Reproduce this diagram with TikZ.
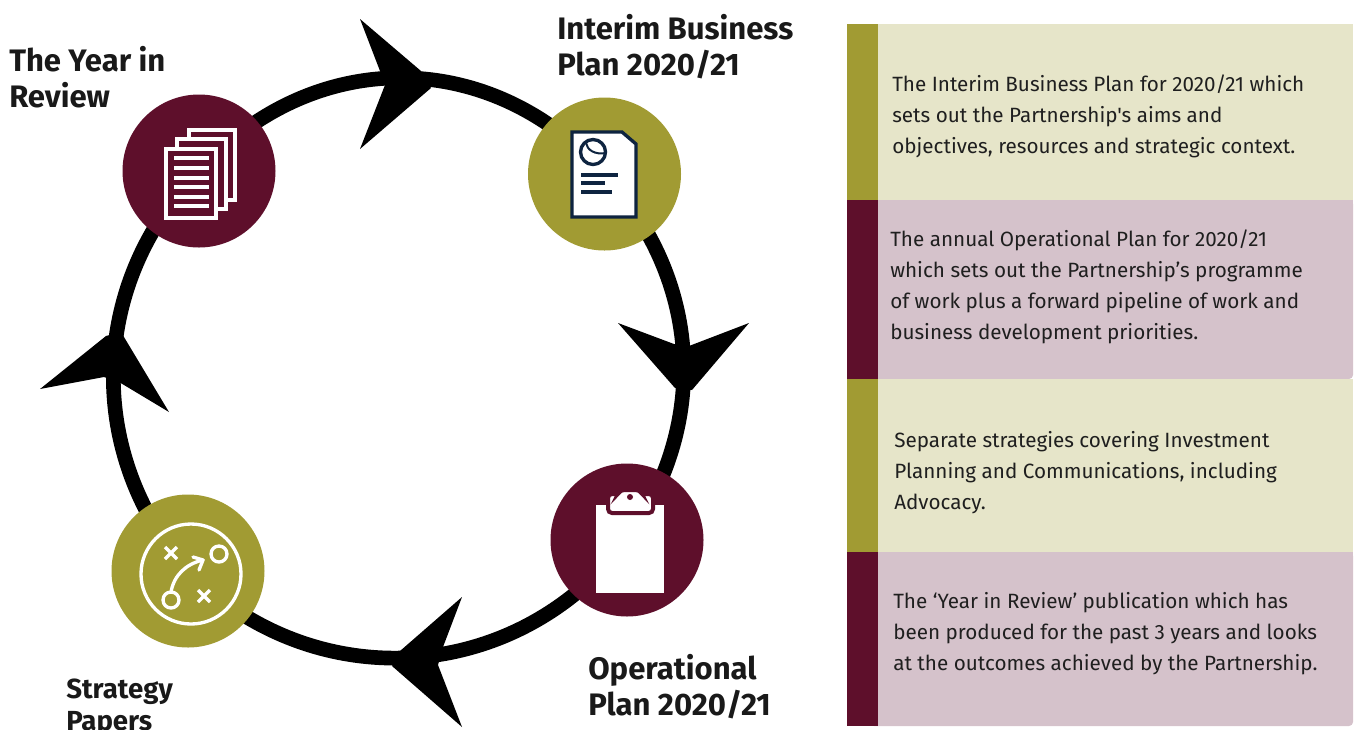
\documentclass[tikz,border=0pt]{standalone}
\usepackage{fontspec}
\setmainfont{Fira Sans}
\newfontfamily\plainbody{Fira Sans}
\usetikzlibrary{backgrounds}
\definecolor{maroon}{HTML}{5E0F2B}
\definecolor{olive}{HTML}{A19B33}
\definecolor{palegreen}{HTML}{E6E5C9}
\definecolor{palepink}{HTML}{D5C2CB}
\definecolor{navy}{HTML}{0E2440}
\tikzset{
  hub/.style={circle,minimum size=114.75pt,inner sep=0pt},
  ring/.style={line width=11pt,black},
  head/.style={fill=black,draw=none},
  title/.style={font=\fontsize{23.3}{27}\selectfont\bfseries,align=left,anchor=north west,inner sep=0pt,text=black!90},
  body/.style={font=\plainbody\fontsize{15.5}{23.2}\selectfont,align=left,anchor=west,inner sep=0pt,text=black!88},
  lite/.style={draw=white,line width=2.5pt},
  sheet/.style={draw=white,line width=2.7pt,fill=maroon},
  reportline/.style={navy,line width=2.5pt},
}
\begin{document}
\begin{tikzpicture}[x=0.75pt,y=-0.75pt]
\useasboundingbox (0,0) rectangle (1356,729);
\clip (0,0) rectangle (1356,729);
% panels
\fill[palegreen] (878,24) rectangle (1353,200);
\fill[palepink,rounded corners=3pt] (870,200) rectangle (1353,379);
\fill[palepink] (870,200) rectangle (1353,300);
\fill[palegreen] (878,379) rectangle (1353,552);
\fill[palepink,rounded corners=3pt] (870,552) rectangle (1353,726);
\fill[palepink] (870,552) rectangle (1353,650);
\fill[olive] (847,24) rectangle (878,200);
\fill[maroon] (847,200) rectangle (878,379);
\fill[olive] (847,379) rectangle (878,552);
\fill[maroon] (847,552) rectangle (878,726);
\node[body] (t1) at (892,116) {The Interim Business Plan for 2020/21 which\\sets out the Partnership's aims and\\objectives, resources and strategic context.};
\node[body] (t2) at (890,287) {The annual Operational Plan for 2020/21\\which sets out the Partnership’s programme\\of work plus a forward pipeline of work and\\business development priorities.};
\node[body] (t3) at (894,473) {Separate strategies covering Investment\\Planning and Communications, including\\Advocacy.};
\node[body] (t4) at (893,634) {The ‘Year in Review’ publication which has\\been produced for the past 3 years and looks\\at the outcomes achieved by the Partnership.};
% hubs
\node[hub,fill=maroon] (yr) at (199,171) {};
\node[hub,fill=olive] (ib) at (604.5,174) {};
\node[hub,fill=maroon] (op) at (627,540) {};
\node[hub,fill=olive] (sp) at (188,571) {};
\begin{scope}[on background layer]
\draw[ring] (yr.center) to[bend left=48,looseness=1.07] (ib.center);
\draw[ring] (ib.center) to[bend left=39] (op.center);
\draw[ring] (op.center) to[bend left=49,looseness=1.05] (sp.center);
\draw[ring] (sp.center) to[bend left=43] (yr.center);
\end{scope}
% arrowheads
\fill[head] (360,19) -- (421,71) -- (431,88) -- (360,149) -- (385,85) -- (380,71) -- cycle;
\fill[head] (618,323) -- (674,344) -- (689,346) -- (749,323) -- (692,390) -- (675,388) -- cycle;
\fill[head] (462,597) -- (443,647) -- (438,665) -- (462,727) -- (392,666) -- (400,651) -- cycle;
\fill[head] (40,389) -- (106,336) -- (121,332) -- (169,412) -- (119,382) -- (104,377) -- cycle;
% titles
\node[title] (lyr) at (9,46) {The Year in\\Review};
\node[title] (lib) at (557,14) {Interim Business\\Plan 2020/21};
\node[title] (lop) at (588,654) {Operational\\Plan 2020/21};
\node[title,font=\fontsize{20.7}{24}\selectfont\bfseries] (lsp) at (66,679) {Strategy\\Papers};
% icon: pages
\draw[sheet] (189,130) rectangle (235,200);
\draw[sheet] (177,139) rectangle (226,209);
\draw[sheet] (166,149) rectangle (216,218);
\foreach \y in {158,168,177.5,187,197,206}{\fill[white] (174,\y-2) rectangle (209,\y+2);}
% icon: report
\draw[reportline,fill=white] (572,132) -- (622,132) -- (636,144) -- (636,217) -- (572,217) -- cycle;
\draw[reportline] (593,152) circle (12.5);
\draw[navy,line width=1.5pt] (586,143) .. controls (587,150) and (595,155) .. (606,153);
\draw[reportline] (581,175) -- (618,175) (581,183) -- (605,183) (581,192) -- (612,192);
% icon: clipboard
\fill[white] (596,505) rectangle (664,593);
\draw[maroon,line width=3pt,fill=white,rounded corners=3pt] (608,494) -- (618,494) -- (620,490) -- (640,490) -- (642,494) -- (653,494) -- (653,513) -- (608,513) -- cycle;
\fill[maroon] (630,497) circle (3);
% icon: tactics
\draw[lite] (191,574) circle (50);
\draw[lite] (219,554) circle (8);
\draw[lite] (171,600) circle (8);
\draw[lite] (165,547) -- (177,559) (177,547) -- (165,559);
\draw[lite] (198,590) -- (210,602) (210,590) -- (198,602);
\draw[lite,line cap=round,line join=round] (171,592) .. controls (174,575) and (186,564) .. (203,560);
\draw[lite,line cap=round,line join=round] (193,557) -- (203,560) -- (199,570);
\end{tikzpicture}
\end{document}
